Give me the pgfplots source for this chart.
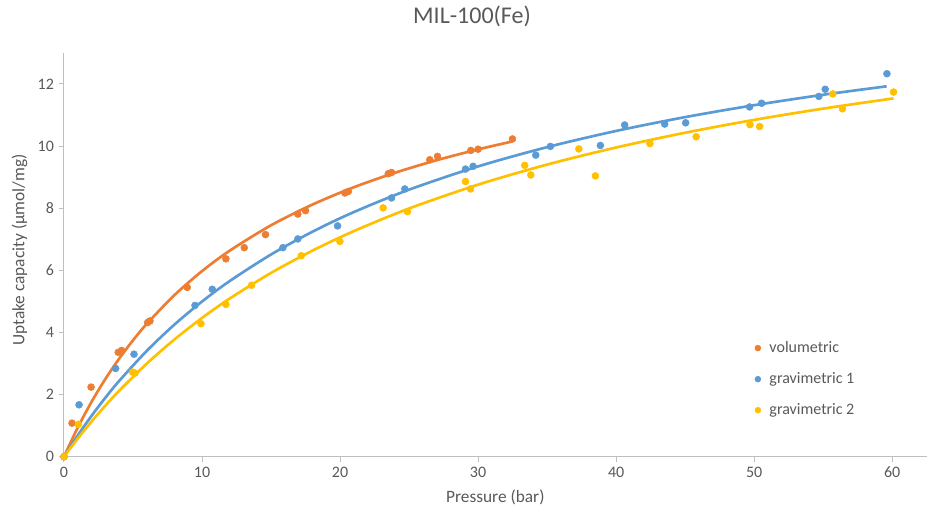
\documentclass[border=0pt]{standalone}
\usepackage{pgfplots}
\pgfplotsset{compat=1.18}
\usepackage{fontspec}
\setmainfont{Carlito}
\definecolor{cOr}{HTML}{ED7D31}
\definecolor{cBl}{HTML}{5B9BD5}
\definecolor{cYe}{HTML}{FFC000}
\definecolor{cTx}{HTML}{595959}
\definecolor{cAx}{HTML}{BFBFBF}
\begin{document}
\begin{tikzpicture}
\useasboundingbox (-48pt,-47.5pt) rectangle (648.75pt,342.5pt);
\begin{axis}[
  at={(0,0)}, anchor=south west,
  scale only axis, width=647pt, height=302.8pt,
  xmin=0, xmax=62.5, ymin=0, ymax=13,
  axis lines=left,
  axis line style={draw=cAx, line width=0.75pt, -},
  xtick={0,10,...,60}, ytick={0,2,...,12},
  tick align=outside, major tick length=4pt,
  tick style={draw=cAx, line width=0.75pt},
  /pgf/number format/assume math mode=true,
  ticklabel style={font=\fontsize{12}{14}\selectfont, text=cTx},
  xlabel={Pressure (bar)}, ylabel={Uptake capacity (µmol/mg)},
  label style={font=\fontsize{13}{15}\selectfont, text=cTx},
  xlabel style={at={(axis description cs:0.5,0)}, anchor=center, yshift=-30.2pt},
  ylabel style={at={(axis description cs:0,0.512)}, anchor=center, yshift=33.4pt},
  title={MIL-100(Fe)},
  title style={font=\fontsize{18}{21}\selectfont, text=cTx, at={(axis description cs:0.473,1)}, anchor=center, yshift=21.2pt},
  legend style={at={(rel axis cs:0.796,0.299)}, anchor=north west, draw=none, fill=none,
    font=\fontsize{12}{14}\selectfont, text=cTx, row sep=9.5pt},
  legend cell align=left,
  legend image code/.code={\draw[#1, mark size=2.2pt] plot coordinates {(0.15cm,0cm)}; \path (0.15cm,0cm) ++(6.5pt,0pt);},
]
\addplot[only marks, mark=*, mark size=2.6pt, color=cOr, mark options={fill=cOr, draw=cOr}] coordinates {
(0,0)(0.58,1.08)(1.96,2.24)(3.93,3.36)(4.17,3.42)(6.06,4.32)(6.23,4.37)(8.93,5.45)(11.73,6.37)(13.06,6.73)(14.6,7.15)(16.94,7.81)(17.5,7.92)(20.35,8.49)(20.6,8.54)(23.49,9.11)(23.73,9.15)(26.5,9.56)(27.06,9.67)(29.47,9.86)(30.0,9.9)(32.49,10.23)
};
\addlegendentry{volumetric}
\addplot[only marks, mark=*, mark size=2.6pt, color=cBl, mark options={fill=cBl, draw=cBl}] coordinates {
(0,0)(1.09,1.67)(3.74,2.84)(5.07,3.30)(9.49,4.87)(10.74,5.39)(15.86,6.73)(16.94,7.01)(19.82,7.43)(23.73,8.33)(24.69,8.62)(29.09,9.26)(29.64,9.35)(34.18,9.71)(35.24,9.99)(38.86,10.02)(40.62,10.68)(43.52,10.71)(45.04,10.75)(49.67,11.26)(50.54,11.38)(54.69,11.60)(55.15,11.83)(59.62,12.33)
};
\addlegendentry{gravimetric 1}
\addplot[only marks, mark=*, mark size=2.6pt, color=cYe, mark options={fill=cYe, draw=cYe}] coordinates {
(0,0)(1.04,1.04)(4.97,2.72)(5.14,2.69)(9.92,4.28)(11.73,4.90)(13.59,5.52)(17.19,6.47)(19.99,6.93)(23.12,8.01)(24.88,7.89)(29.09,8.86)(29.45,8.62)(33.38,9.38)(33.82,9.07)(37.3,9.91)(38.5,9.04)(42.45,10.08)(45.8,10.30)(49.7,10.69)(50.4,10.63)(55.7,11.68)(56.4,11.20)(60.1,11.74)
};
\addlegendentry{gravimetric 2}
% trendlines
\addplot[cOr, line width=2pt, smooth, no marks, forget plot] coordinates {
(0,0)(1,0.941)(2,1.769)(3,2.503)(4,3.158)(5,3.747)(6,4.278)(8,5.201)(10,5.974)(12,6.631)(15,7.450)(18,8.118)(21,8.675)(24,9.144)(27,9.546)(30,9.894)(32.5,10.151)
};
\addplot[cBl, line width=2pt, smooth, no marks, forget plot] coordinates {
(0,0)(1,0.686)(2,1.317)(3,1.900)(4,2.440)(6,3.408)(8,4.253)(10,4.995)(12,5.653)(15,6.510)(18,7.243)(21,7.876)(25,8.597)(30,9.346)(35,9.966)(40,10.488)(45,10.933)(50,11.317)(55,11.653)(59.6,11.925)
};
\addplot[cYe, line width=2pt, smooth, no marks, forget plot] coordinates {
(0,0)(1,0.586)(2,1.133)(3,1.645)(4,2.124)(6,2.997)(8,3.773)(10,4.466)(12,5.090)(15,5.916)(18,6.634)(21,7.263)(25,7.991)(30,8.759)(35,9.405)(40,9.955)(45,10.430)(50,10.844)(55,11.207)(60.1,11.536)
};
\end{axis}
\end{tikzpicture}
\end{document}
